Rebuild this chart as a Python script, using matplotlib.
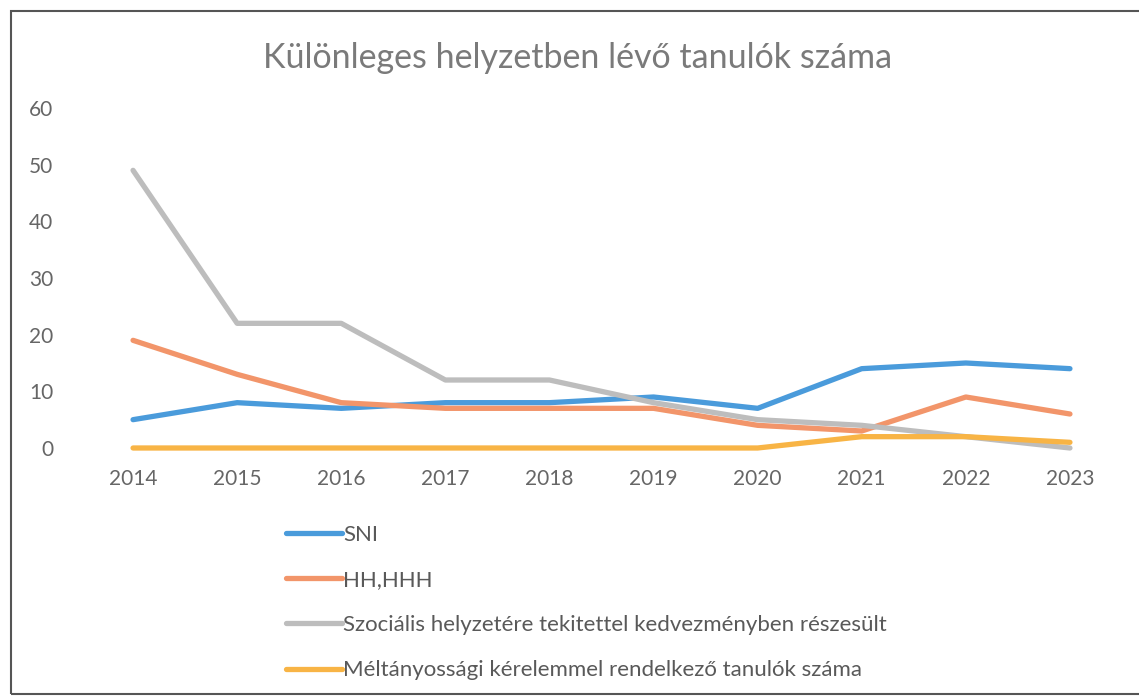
import matplotlib.pyplot as plt
from matplotlib.patches import Rectangle

years = ['2014', '2015', '2016', '2017', '2018', '2019', '2020', '2021', '2022', '2023']
sni = [5, 8, 7, 8, 8, 9, 7, 14, 15, 14]
hh_hhh = [19, 13, 8, 7, 7, 7, 4, 3, 9, 6]
szocialis = [49, 22, 22, 12, 12, 8, 5, 4, 2, 0]
meltanyossagi = [0, 0, 0, 0, 0, 0, 0, 2, 2, 1]

labels = ['SNI', 'HH,HHH',
          'Szociális helyzetére tekitettel kedvezményben részesült',
          'Méltányossági kérelemmel rendelkező tanulók száma']
colors = ['#4A9BDB', '#F2956A', '#BDBDBD', '#F8B445']

plt.rcParams['font.family'] = ['Lato', 'DejaVu Sans']

fig = plt.figure(figsize=(11.39, 6.96), dpi=100)
ax = fig.add_axes([81 / 1139, 1 - 448 / 696, (1122 - 81) / 1139, (448 - 108) / 696])

x = range(len(years))
for vals, lab, col in zip([sni, hh_hhh, szocialis, meltanyossagi], labels, colors):
    ax.plot(x, vals, color=col, linewidth=3.8, label=lab, clip_on=False,
            solid_capstyle='round', solid_joinstyle='round')

ax.set_xlim(-0.5, 9.5)
ax.set_ylim(0, 60)
ax.set_yticks(range(0, 61, 10))
ax.set_xticks(list(x))
ax.set_xticklabels(years)
ax.tick_params(axis='both', length=0, labelsize=15, colors='#666666')
ax.tick_params(axis='x', pad=15)
ax.tick_params(axis='y', pad=20)
for s in ax.spines.values():
    s.set_visible(False)

fig.text(578 / 1139, 1 - 58 / 696, 'Különleges helyzetben lévő tanulók száma',
         ha='center', va='center', fontsize=24.5, color='#7a7a7a')

leg = ax.legend(loc='upper left', bbox_to_anchor=(286 / 1139, 1 - 525 / 696),
                bbox_transform=fig.transFigure, frameon=False, fontsize=16,
                handlelength=2.5, handletextpad=0.08, labelspacing=1.13,
                borderaxespad=0, borderpad=0)
for t in leg.get_texts():
    t.set_color('#595959')

fig.patches.append(Rectangle((11 / 1139, 2 / 696), 1.1, 1 - 13 / 696,
                             transform=fig.transFigure, fill=False,
                             edgecolor='#555555', linewidth=1.5))

fig.savefig('out.png', dpi=100)
